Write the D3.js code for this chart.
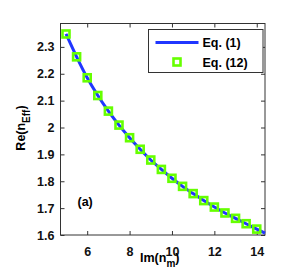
<!DOCTYPE html>
<html>
<head>
<meta charset="utf-8">
<script src="https://cdn.jsdelivr.net/npm/d3@7"></script>
<style>
  body { margin: 0; background: #fff; }
  text { font-family: "Liberation Sans", Arial, sans-serif; font-weight: bold; }
</style>
</head>
<body>
<svg id="chart" width="292" height="268"></svg>
<script>
// curve from Eq. (1)
let lineX = [5, 5.5, 6, 6.5, 7, 7.5, 8, 8.5, 9, 9.5, 10, 10.5, 11, 11.5, 12, 12.5, 13, 13.5, 14, 14.39];
let lineY = [2.348, 2.263, 2.185, 2.119, 2.061, 2.009, 1.962, 1.919, 1.879, 1.844, 1.811, 1.781, 1.754, 1.728, 1.704, 1.682, 1.662, 1.642, 1.622, 1.607];
// markers from Eq. (12)
let markX = [5, 5.5, 6, 6.5, 7, 7.5, 8, 8.5, 9, 9.5, 10, 10.5, 11, 11.5, 12, 12.5, 13, 13.5, 14];
let markY = [2.348, 2.263, 2.185, 2.119, 2.061, 2.009, 1.962, 1.919, 1.879, 1.844, 1.811, 1.781, 1.754, 1.728, 1.704, 1.682, 1.662, 1.642, 1.622];
let xTicks = [6, 8, 10, 12, 14];
let yTicks = [1.6, 1.7, 1.8, 1.9, 2, 2.1, 2.2, 2.3];

let margin = {top: 23.5, right: 27, bottom: 33, left: 60.5};
let width = 292 - margin.left - margin.right;
let height = 268 - margin.top - margin.bottom;

let svg = d3.select("#chart");
let g = svg.append("g")
    .attr("transform", `translate(${margin.left}, ${margin.top})`);

let x = d3.scaleLinear().domain([4.74, 14.39]).range([0, width]);
let y = d3.scaleLinear().domain([1.6, 2.387]).range([height, 0]);

let xAxis = g.append("g")
    .attr("transform", `translate(0, ${height})`)
    .call(d3.axisBottom(x).tickValues(xTicks).tickFormat(d3.format("d")).tickSizeInner(-4).tickSizeOuter(0).tickPadding(12));
let xTop = g.append("g")
    .call(d3.axisTop(x).tickValues(xTicks).tickFormat("").tickSizeInner(-4).tickSizeOuter(0));
let yAxis = g.append("g")
    .call(d3.axisLeft(y).tickValues(yTicks).tickFormat(d3.format("")).tickSizeInner(-4).tickSizeOuter(0).tickPadding(6));
let yRight = g.append("g")
    .attr("transform", `translate(${width}, 0)`)
    .call(d3.axisRight(y).tickValues(yTicks).tickFormat("").tickSizeInner(-4).tickSizeOuter(0));

g.selectAll(".domain").remove();
g.selectAll(".tick line").style("stroke", "#333").style("stroke-width", 1);
g.selectAll(".tick text")
    .style("font-size", "12.5px")
    .style("font-family", "Liberation Sans, Arial, sans-serif")
    .style("font-weight", "bold")
    .style("fill", "#111");

// frame
g.append("rect")
    .attr("width", width)
    .attr("height", height)
    .style("fill", "none")
    .style("stroke", "#333")
    .style("stroke-width", 1);

let line = d3.line()
    .x(function(d, i) { return x(lineX[i]); })
    .y(function(d, i) { return y(lineY[i]); })
    .curve(d3.curveMonotoneX);

g.append("path")
    .datum(lineX)
    .attr("d", line)
    .style("fill", "none")
    .style("stroke", "#2036ff")
    .style("stroke-width", 3);

let size = 7;
g.selectAll("rect.mark")
    .data(markX)
    .join("rect")
    .attr("class", "mark")
    .attr("x", function(d) { return x(d) - size / 2; })
    .attr("y", function(d, i) { return y(markY[i]) - size / 2; })
    .attr("width", size)
    .attr("height", size)
    .style("fill", "none")
    .style("stroke", "#66ff00")
    .style("stroke-width", 2.6);

// legend
let legend = g.append("g").attr("transform", "translate(88, 6)");
legend.append("rect")
    .attr("width", 114.5)
    .attr("height", 43)
    .style("fill", "#fff")
    .style("stroke", "#333")
    .style("stroke-width", 1);
legend.append("line")
    .attr("x1", 7).attr("x2", 50)
    .attr("y1", 13).attr("y2", 13)
    .style("stroke", "#2036ff")
    .style("stroke-width", 3);
legend.append("rect")
    .attr("x", 28.5 - size / 2)
    .attr("y", 32.5 - size / 2)
    .attr("width", size)
    .attr("height", size)
    .style("fill", "none")
    .style("stroke", "#66ff00")
    .style("stroke-width", 2.6);
legend.append("text")
    .attr("x", 54).attr("y", 17.5)
    .style("font-size", "12.5px")
    .text("Eq. (1)");
legend.append("text")
    .attr("x", 54).attr("y", 37)
    .style("font-size", "12.5px")
    .text("Eq. (12)");

g.append("text")
    .attr("x", 17).attr("y", 182.5)
    .style("font-size", "12.5px")
    .text("(a)");

// x label
let xl = svg.append("text")
    .attr("x", 140).attr("y", 261.5)
    .style("font-size", "12.5px");
xl.append("tspan").text("Im(n");
xl.append("tspan").attr("dy", 5).style("font-size", "10px").text("m");
xl.append("tspan").attr("dy", -5).text(")");

// y label
let yl = svg.append("text")
    .attr("transform", "translate(25, 128) rotate(-90)")
    .attr("text-anchor", "middle")
    .style("font-size", "12.5px");
yl.append("tspan").text("Re(n");
yl.append("tspan").attr("dy", 5).style("font-size", "10px").text("Eff");
yl.append("tspan").attr("dy", -5).text(")");
</script>
</body>
</html>
